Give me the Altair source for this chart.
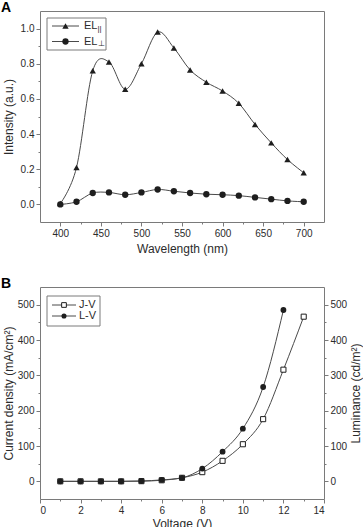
import altair as alt
import pandas as pd

# ---------------- data ----------------
wavelength = [400, 420, 440, 460, 480, 500, 520, 540, 560, 580, 600, 620, 640, 660, 680, 700]
el_par = [0.005, 0.21, 0.76, 0.81, 0.655, 0.80, 0.98, 0.89, 0.765, 0.695, 0.645, 0.575, 0.455, 0.35, 0.255, 0.18]
el_perp = [0.0, 0.015, 0.065, 0.068, 0.055, 0.068, 0.085, 0.075, 0.065, 0.058, 0.055, 0.05, 0.04, 0.03, 0.02, 0.015]

voltage_j = [1, 2, 3, 4, 5, 6, 7, 8, 9, 10, 11, 12, 13]
current_density = [0, 0, 0, 0, 0.5, 3, 10, 26, 58, 105, 176, 316, 466]
voltage_l = [1, 2, 3, 4, 5, 6, 7, 8, 9, 10, 11, 12]
luminance = [0, 0, 0, 0, 1, 4, 10, 36, 84, 149, 267, 485]

wl_ticks = [400, 450, 500, 550, 600, 650, 700]
wl_minor = [425, 475, 525, 575, 625, 675]
int_ticks = [0.0, 0.2, 0.4, 0.6, 0.8, 1.0]
int_minor = [0.1, 0.3, 0.5, 0.7, 0.9]
v_ticks = [0, 2, 4, 6, 8, 10, 12, 14]
v_minor = [1, 3, 5, 7, 9, 11, 13]
b_ticks = [0, 100, 200, 300, 400, 500]
b_minor_ticks = [50, 150, 250, 350, 450]

FONT = "Liberation Sans"
TXT = "#2b2b2b"
LINE = "#4a4a4a"
MARK = "#1e1e1e"
FRAME = "#7a7a7a"

W, HA, HB = 284, 211, 212

# ---------------- panel A ----------------
dfa = pd.DataFrame({
    "wl": wavelength + wavelength,
    "val": el_par + el_perp,
    "s": ["par"] * len(wavelength) + ["perp"] * len(wavelength),
})
xa_scale = alt.Scale(domain=[375, 725], nice=False, zero=False)
ya_scale = alt.Scale(domain=[-0.1, 1.1], nice=False, zero=False)
shape_a = alt.Scale(domain=["par", "perp"], range=["triangle-up", "circle"])

xa_main = alt.X("wl:Q", scale=xa_scale,
                axis=alt.Axis(values=wl_ticks, title="Wavelength (nm)", orient="bottom", titlePadding=5))
ya_main = alt.Y("val:Q", scale=ya_scale,
                axis=alt.Axis(values=int_ticks, format=".1f", title="Intensity (a.u.)", orient="left",
                              titlePadding=5))

a_lines = alt.Chart(dfa).mark_line(interpolate="cardinal", color=LINE, strokeWidth=1).encode(
    x=xa_main, y=ya_main, detail="s:N")
a_points = alt.Chart(dfa).mark_point(filled=True, size=40, color=MARK, opacity=1).encode(
    x=alt.X("wl:Q", scale=xa_scale, axis=None),
    y=alt.Y("val:Q", scale=ya_scale, axis=None),
    shape=alt.Shape("s:N", scale=shape_a, legend=None))
a_minor = alt.Chart(dfa).mark_point(opacity=0).encode(
    x=alt.X("wl:Q", scale=xa_scale,
            axis=alt.Axis(values=wl_minor, labels=False, title=None, tickSize=2, orient="bottom")),
    y=alt.Y("val:Q", scale=ya_scale,
            axis=alt.Axis(values=int_minor, labels=False, title=None, tickSize=2, orient="left")))

leg_a = pd.DataFrame({"label": ["EL", "EL"], "sub": ["||", "\u22a5"], "s": ["par", "perp"],
                      "ly": [15, 30.5], "lys": [17.5, 33]})
a_box = alt.Chart(pd.DataFrame({"k": [0]})).mark_rect(fill="white", stroke=FRAME, strokeWidth=1).encode(
    x=alt.value(7), x2=alt.value(66), y=alt.value(7), y2=alt.value(39))
a_leg_line = alt.Chart(leg_a).mark_rule(color=LINE, strokeWidth=1).encode(
    x=alt.value(12), x2=alt.value(39), y=alt.Y("ly:Q", scale=None, axis=None))
a_leg_pt = alt.Chart(leg_a).mark_point(filled=True, size=40, color=MARK, opacity=1).encode(
    x=alt.value(25.5), y=alt.Y("ly:Q", scale=None, axis=None),
    shape=alt.Shape("s:N", scale=shape_a, legend=None))
a_leg_txt = alt.Chart(leg_a).mark_text(align="left", baseline="middle", font=FONT, fontSize=11,
                                       color=TXT).encode(
    x=alt.value(44), y=alt.Y("ly:Q", scale=None, axis=None), text="label:N")
a_leg_sub = alt.Chart(leg_a).mark_text(align="left", baseline="middle", font=FONT, fontSize=8,
                                       color=TXT).encode(
    x=alt.value(57.5), y=alt.Y("lys:Q", scale=None, axis=None), text="sub:N")
a_tag = alt.Chart(pd.DataFrame({"t": ["A"]})).mark_text(align="left", baseline="top", font=FONT,
                                                       fontSize=14, fontWeight="bold", color="#000").encode(
    x=alt.value(-39), y=alt.value(-10), text="t:N")

chart_a = alt.layer(a_lines, a_points, a_minor, a_box, a_leg_line, a_leg_pt, a_leg_txt, a_leg_sub,
                    a_tag).resolve_scale(x="independent", y="independent").properties(width=W, height=HA)

# ---------------- panel B ----------------
dfj = pd.DataFrame({"v": voltage_j, "j": current_density})
dfl = pd.DataFrame({"v": voltage_l, "l": luminance})
xb_scale = alt.Scale(domain=[0, 14], nice=False, zero=False)
yb_scale = alt.Scale(domain=[-50, 550], nice=False, zero=False)

xb_main = alt.X("v:Q", scale=xb_scale,
                axis=alt.Axis(values=v_ticks, title="Voltage (V)", orient="bottom", titlePadding=3))
yb_main = alt.Y("j:Q", scale=yb_scale,
                axis=alt.Axis(values=b_ticks, title="Current density (mA/cm\u00b2)", orient="left",
                              titlePadding=2))
xb_none = alt.X("v:Q", scale=xb_scale, axis=None)

b_jline = alt.Chart(dfj).mark_line(interpolate="monotone", color=LINE, strokeWidth=1).encode(
    x=xb_main, y=yb_main)
b_lline = alt.Chart(dfl).mark_line(interpolate="monotone", color=LINE, strokeWidth=1).encode(
    x=xb_none,
    y=alt.Y("l:Q", scale=yb_scale,
            axis=alt.Axis(values=b_ticks, title="Luminance (cd/m\u00b2)", orient="right", titleAngle=270,
                          titleBaseline="top", titlePadding=4)))
b_jpts = alt.Chart(dfj).mark_point(shape="square", filled=True, fill="white", stroke=MARK, strokeWidth=1,
                                   size=26, opacity=1).encode(
    x=xb_none, y=alt.Y("j:Q", scale=yb_scale, axis=None))
b_lpts = alt.Chart(dfl).mark_point(shape="circle", filled=True, color=MARK, size=34, opacity=1).encode(
    x=xb_none, y=alt.Y("l:Q", scale=yb_scale, axis=None))
b_minor_l = alt.Chart(dfj).mark_point(opacity=0).encode(
    x=alt.X("v:Q", scale=xb_scale,
            axis=alt.Axis(values=v_minor, labels=False, title=None, tickSize=2, orient="bottom")),
    y=alt.Y("j:Q", scale=yb_scale,
            axis=alt.Axis(values=b_minor_ticks, labels=False, title=None, tickSize=2, orient="left")))
b_minor_r = alt.Chart(dfl).mark_point(opacity=0).encode(
    x=xb_none,
    y=alt.Y("l:Q", scale=yb_scale,
            axis=alt.Axis(values=b_minor_ticks, labels=False, title=None, tickSize=2, orient="right")))

leg_b = pd.DataFrame({"label": ["J-V", "L-V"], "ly": [18, 29]})
b_box = alt.Chart(pd.DataFrame({"k": [0]})).mark_rect(fill="white", stroke=FRAME, strokeWidth=1).encode(
    x=alt.value(7), x2=alt.value(60), y=alt.value(9), y2=alt.value(39))
b_leg_line = alt.Chart(leg_b).mark_rule(color=LINE, strokeWidth=1).encode(
    x=alt.value(12), x2=alt.value(36), y=alt.Y("ly:Q", scale=None, axis=None))
b_leg_j = alt.Chart(leg_b.iloc[[0]]).mark_point(shape="square", filled=True, fill="white", stroke=MARK,
                                               strokeWidth=1, size=22, opacity=1).encode(
    x=alt.value(24), y=alt.Y("ly:Q", scale=None, axis=None))
b_leg_l = alt.Chart(leg_b.iloc[[1]]).mark_point(shape="circle", filled=True, color=MARK, size=26,
                                               opacity=1).encode(
    x=alt.value(24), y=alt.Y("ly:Q", scale=None, axis=None))
b_leg_txt = alt.Chart(leg_b).mark_text(align="left", baseline="middle", font=FONT, fontSize=11,
                                       color=TXT).encode(
    x=alt.value(39), y=alt.Y("ly:Q", scale=None, axis=None), text="label:N")
b_tag = alt.Chart(pd.DataFrame({"t": ["B"]})).mark_text(align="left", baseline="top", font=FONT,
                                                       fontSize=14, fontWeight="bold", color="#000").encode(
    x=alt.value(-39), y=alt.value(-10), text="t:N")

chart_b = alt.layer(b_jline, b_lline, b_jpts, b_lpts, b_minor_l, b_minor_r, b_box, b_leg_line, b_leg_j,
                    b_leg_l, b_leg_txt, b_tag).resolve_scale(x="independent", y="independent").properties(
    width=W, height=HB)

chart = alt.vconcat(chart_a, chart_b, spacing=65, bounds="flush").properties(
    padding={"left": 0, "top": 0, "right": 0, "bottom": 0}
).configure(background="white").configure_view(stroke=FRAME, strokeWidth=1).configure_axis(
    labelFont=FONT, labelFontSize=10, labelColor=TXT, labelPadding=2,
    titleFont=FONT, titleFontSize=12, titleFontWeight="normal", titleColor=TXT,
    tickColor=FRAME, tickSize=4, domain=False, grid=False
)

chart.save("out.html", embed_options={"renderer": "svg", "actions": False})
